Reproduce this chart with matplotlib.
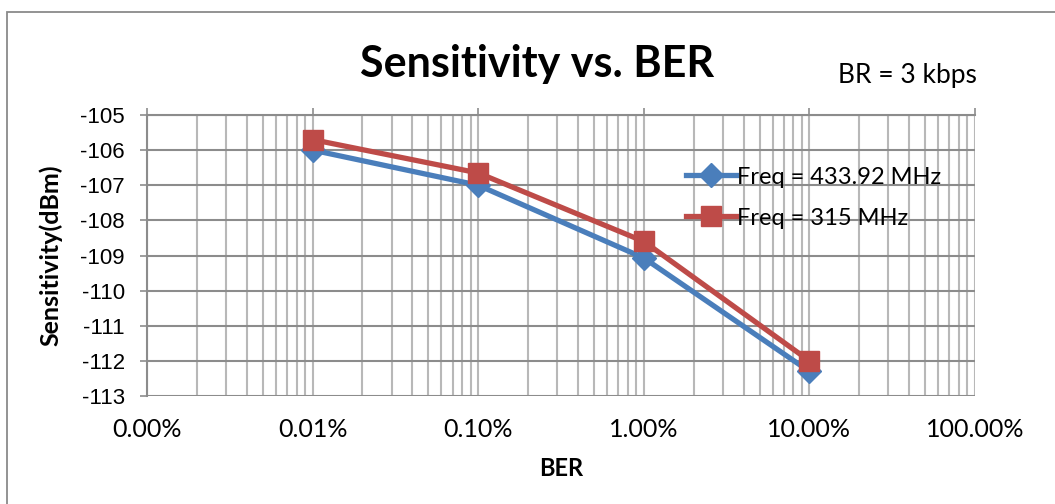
import matplotlib.pyplot as plt
from matplotlib.patches import Rectangle
from matplotlib.ticker import FixedLocator, LogLocator, NullFormatter

# BER as fraction, sensitivity in dBm
ber = [1e-4, 1e-3, 1e-2, 1e-1]
sens_433 = [-106.0, -107.0, -109.07, -112.3]
sens_315 = [-105.7, -106.65, -108.6, -112.0]
xtick_vals = [1e-5, 1e-4, 1e-3, 1e-2, 1e-1, 1]
xtick_labels = ["0.00%", "0.01%", "0.10%", "1.00%", "10.00%", "100.00%"]
ytick_vals = list(range(-113, -104))

BLUE = "#4a7ebb"
RED = "#be4b48"
GRID_H = "#8c8c8c"
GRID_V = "#b8b8b8"
CAL = "Lato"
ARIAL = "Liberation Sans"

W, H = 1055, 504
fig = plt.figure(figsize=(W / 100, H / 100), dpi=100)
fig.patch.set_facecolor("white")

# outer chart border
fig.add_artist(Rectangle((7 / W, -0.1), 1.2, 1 - 12 / H + 0.1, transform=fig.transFigure,
                         fill=False, edgecolor="#8a8a8a", lw=1.3))

ax = fig.add_axes([147 / W, 1 - 396 / H, (975 - 147) / W, (396 - 115) / H])
ax.set_xscale("log")
ax.set_xlim(1e-5, 1)
ax.set_ylim(-113, -105)

ax.plot(ber, sens_433, color=BLUE, lw=3.8, marker="D", ms=12, mec=BLUE, mfc=BLUE,
        label="Freq = 433.92 MHz", zorder=4, solid_joinstyle="round")
ax.plot(ber, sens_315, color=RED, lw=3.8, marker="s", ms=14, mec=RED, mfc=RED,
        label="Freq = 315 MHz", zorder=5, solid_joinstyle="round")

ax.xaxis.set_major_locator(FixedLocator(xtick_vals))
ax.xaxis.set_minor_locator(LogLocator(base=10, subs=range(2, 10)))
ax.xaxis.set_minor_formatter(NullFormatter())
ax.set_xticklabels(xtick_labels, fontfamily=CAL, fontsize=18)
ax.set_yticks(ytick_vals)
ax.set_yticklabels([str(v) for v in ytick_vals], fontfamily=ARIAL, fontsize=16)

ax.grid(True, which="major", axis="y", color=GRID_H, lw=1.5)
ax.grid(True, which="both", axis="x", color=GRID_V, lw=1.5)
ax.set_axisbelow(True)

for s in ["right", "bottom"]:
    ax.spines[s].set_visible(False)
for s in ["left", "top"]:
    ax.spines[s].set_color(GRID_H)
    ax.spines[s].set_linewidth(1.5)

ax.tick_params(axis="y", length=5, color=GRID_H, width=1.2, pad=11, labelcolor="black")
ax.tick_params(axis="x", which="major", top=True, bottom=False, length=5, color=GRID_H,
               width=1.2, pad=11, labelcolor="black", direction="out")
ax.tick_params(axis="x", which="minor", top=False, bottom=False, length=0)
# labels stay at bottom while ticks sit on top edge
ax.tick_params(axis="x", labelbottom=True, labeltop=False)

ax.set_xlabel("BER", fontfamily=CAL, fontweight="bold", fontsize=17, labelpad=11)
ax.set_ylabel("Sensitivity(dBm)", fontfamily=CAL, fontweight="bold", fontsize=18, labelpad=13)

leg = ax.legend(loc="upper left", bbox_to_anchor=(0.64, 0.85), frameon=False,
                prop={"family": CAL, "size": 17}, handlelength=2.1, handletextpad=0.05,
                labelspacing=0.85, borderaxespad=0)

fig.text(537 / W, 1 - 64 / H, "Sensitivity vs. BER", fontfamily=CAL, fontweight="bold",
         fontsize=31, ha="center", va="center")
fig.text(907 / W, 1 - 76 / H, "BR = 3 kbps", fontfamily=CAL, fontsize=19,
         ha="center", va="center")

fig.savefig("out.png", dpi=100, facecolor="white")
